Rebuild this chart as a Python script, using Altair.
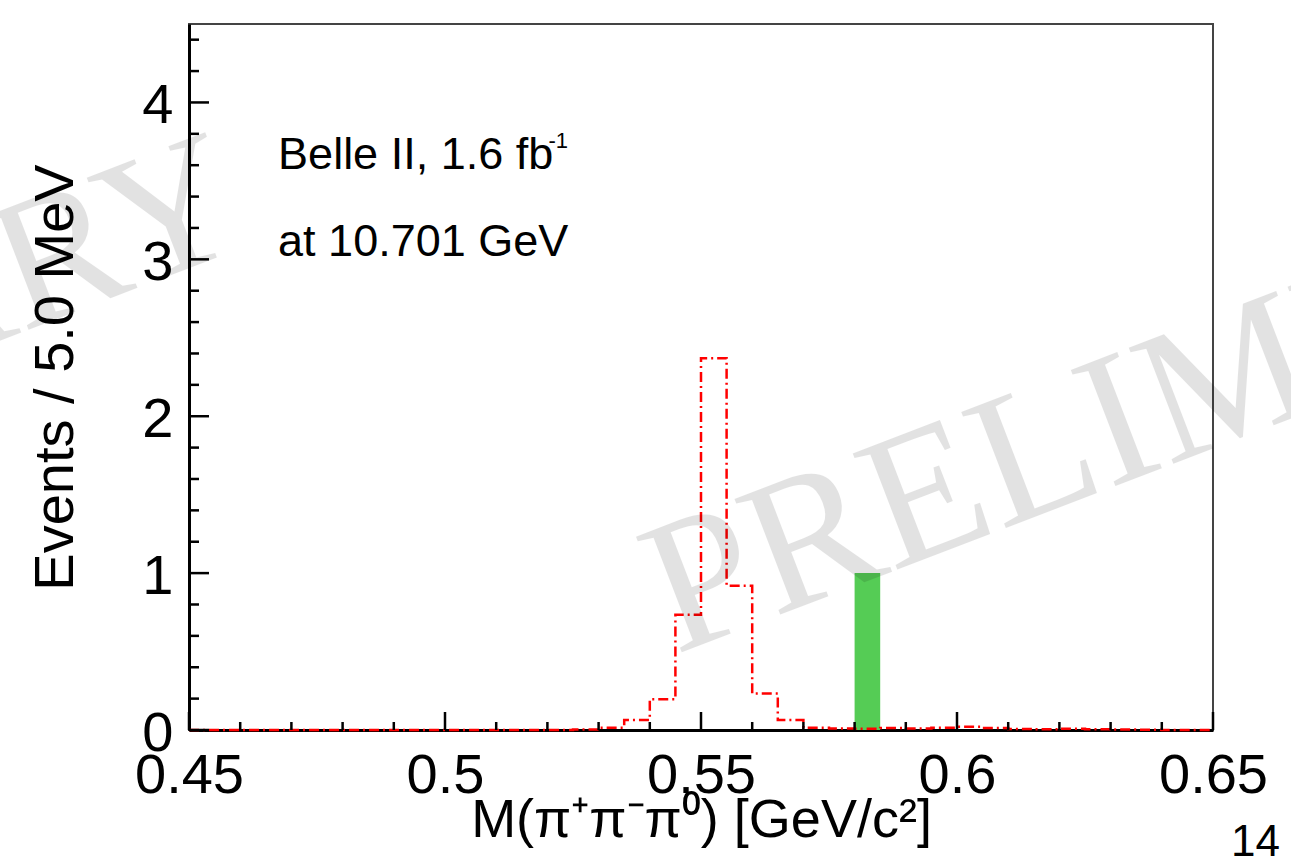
import altair as alt
import pandas as pd

# ---- data -------------------------------------------------------------
# 5 MeV bin edges of M(pi+ pi- pi0) [GeV/c^2]
edges = [0.450, 0.455, 0.460, 0.465, 0.470, 0.475, 0.480, 0.485, 0.490, 0.495,
         0.500, 0.505, 0.510, 0.515, 0.520, 0.525, 0.530, 0.535, 0.540, 0.545,
         0.550, 0.555, 0.560, 0.565, 0.570, 0.575, 0.580, 0.585, 0.590, 0.595,
         0.600, 0.605, 0.610, 0.615, 0.620, 0.625, 0.630, 0.635, 0.640, 0.645,
         0.650]
# red dash-dotted histogram (expected / MC), one value per bin
mc_counts = [0, 0, 0, 0, 0, 0, 0, 0, 0, 0,
             0, 0, 0, 0, 0, 0.003, 0.015, 0.064, 0.196, 0.735,
             2.37, 0.92, 0.232, 0.064, 0.015, 0.010, 0.008, 0.012, 0.010, 0.015,
             0.020, 0.012, 0.006, 0.004, 0.008, 0.005, 0.003, 0.002, 0, 0]
# green filled histogram (data)
data_low = [0.580]
data_high = [0.585]
data_counts = [1]

x_major = [0.45, 0.50, 0.55, 0.60, 0.65]
x_minor = [0.46, 0.47, 0.48, 0.49, 0.51, 0.52, 0.53, 0.54, 0.56, 0.57, 0.58,
           0.59, 0.61, 0.62, 0.63, 0.64]
y_major = [0, 1, 2, 3, 4]
y_minor = [0.2, 0.4, 0.6, 0.8, 1.2, 1.4, 1.6, 1.8, 2.2, 2.4, 2.6, 2.8,
           3.2, 3.4, 3.6, 3.8, 4.2, 4.4]

label_text = ["Belle II, 1.6 fb", "at 10.701 GeV"]
label_x = [0.4674, 0.4674]
label_y = [3.578, 3.022]
sup_text = ["-1"]
sup_x = [0.5202]
sup_y = [3.712]

wm_text = ["PRELIMINARY", "PRELIMINARY"]
wm_x = [0.4625, 0.5450]
wm_y = [3.100, 0.479]

page_text = ["14"]
page_x = [0.6631]
page_y = [-0.80]

# ---- chart ------------------------------------------------------------
W, H = 1024, 706
FONT = "Liberation Sans"
xs = alt.Scale(domain=[0.45, 0.65], nice=False, zero=False)
ys = alt.Scale(domain=[0, 4.5], nice=False, zero=True)

mc_df = pd.DataFrame({"m": edges, "n": mc_counts + [mc_counts[-1]]})
green_df = pd.DataFrame({"lo": data_low, "hi": data_high, "n": data_counts,
                         "z": [0] * len(data_low)})

x_axis = alt.Axis(values=x_major, format="~g", grid=False, ticks=False, tickSize=0,
                  domain=True, domainColor="black", domainWidth=3,
                  labelFont=FONT, labelFontSize=56, labelColor="black",
                  labelPadding=62, labelBaseline="alphabetic", labelFlush=False,
                  labelOverlap=False,
                  title="M(π⁺π⁻π⁰) [GeV/c²]", titleFont=FONT, titleFontSize=54,
                  titleFontWeight="normal", titleColor="black",
                  titleX=512, titleY=106, titleBaseline="alphabetic",
                  titleAlign="center")
y_axis = alt.Axis(values=y_major, format="d", grid=False, ticks=False, tickSize=0,
                  domain=True, domainColor="black", domainWidth=3,
                  labelFont=FONT, labelFontSize=56, labelColor="black",
                  labelPadding=16, labelBaseline="alphabetic", labelOffset=20,
                  labelFlush=False, labelOverlap=False,
                  title="Events / 5.0 MeV", titleFont=FONT, titleFontSize=56,
                  titleFontWeight="normal", titleColor="black",
                  titleAngle=270, titleX=-117, titleY=353,
                  titleBaseline="alphabetic", titleAlign="center")

green = alt.Chart(green_df).mark_rect(color="#55cc55").encode(
    x=alt.X("lo:Q", scale=xs, axis=x_axis),
    x2="hi:Q",
    y=alt.Y("n:Q", scale=ys, axis=y_axis),
    y2="z:Q",
)

mc = alt.Chart(mc_df).mark_line(
    interpolate="step-after", color="#ff0000", strokeWidth=2.5,
    strokeDash=[10, 4, 2, 4]
).encode(
    x=alt.X("m:Q", scale=xs),
    y=alt.Y("n:Q", scale=ys),
)

ymaj_df = pd.DataFrame({"v": y_major})
ymin_df = pd.DataFrame({"v": y_minor})
xmaj_df = pd.DataFrame({"v": x_major})
xmin_df = pd.DataFrame({"v": x_minor})

ymaj = alt.Chart(ymaj_df).mark_rule(color="black", strokeWidth=2.5).encode(
    y=alt.Y("v:Q", scale=ys), x=alt.value(0), x2=alt.value(20))
ymin = alt.Chart(ymin_df).mark_rule(color="black", strokeWidth=2.5).encode(
    y=alt.Y("v:Q", scale=ys), x=alt.value(0), x2=alt.value(10))
xmaj = alt.Chart(xmaj_df).mark_rule(color="black", strokeWidth=2.5).encode(
    x=alt.X("v:Q", scale=xs), y=alt.value(H), y2=alt.value(H - 18))
xmin = alt.Chart(xmin_df).mark_rule(color="black", strokeWidth=2.5).encode(
    x=alt.X("v:Q", scale=xs), y=alt.value(H), y2=alt.value(H - 8))

lab_df = pd.DataFrame({"t": label_text, "x": label_x, "y": label_y})
labels = alt.Chart(lab_df).mark_text(
    font=FONT, fontSize=45, align="left", baseline="alphabetic", color="black"
).encode(x=alt.X("x:Q", scale=xs), y=alt.Y("y:Q", scale=ys), text="t:N")

sup_df = pd.DataFrame({"t": sup_text, "x": sup_x, "y": sup_y})
sup = alt.Chart(sup_df).mark_text(
    font=FONT, fontSize=22, align="left", baseline="alphabetic", color="black"
).encode(x=alt.X("x:Q", scale=xs), y=alt.Y("y:Q", scale=ys), text="t:N")

wm_df = pd.DataFrame({"t": wm_text, "x": wm_x, "y": wm_y})
wm_right = alt.Chart(wm_df.iloc[[0]]).mark_text(
    font="Liberation Serif", fontSize=185, align="right", baseline="alphabetic",
    angle=339, color="black", opacity=0.11
).encode(x=alt.X("x:Q", scale=xs), y=alt.Y("y:Q", scale=ys), text="t:N")
wm_left = alt.Chart(wm_df.iloc[[1]]).mark_text(
    font="Liberation Serif", fontSize=190, align="left", baseline="alphabetic",
    angle=339, color="black", opacity=0.11
).encode(x=alt.X("x:Q", scale=xs), y=alt.Y("y:Q", scale=ys), text="t:N")

page_df = pd.DataFrame({"t": page_text, "x": page_x, "y": page_y})
page = alt.Chart(page_df).mark_text(
    font=FONT, fontSize=44, align="right", baseline="alphabetic", color="black"
).encode(x=alt.X("x:Q", scale=xs), y=alt.Y("y:Q", scale=ys), text="t:N")

chart = alt.layer(
    green, mc, ymaj, ymin, xmaj, xmin, labels, sup, wm_right, wm_left, page
).properties(
    width=W, height=H,
    autosize=alt.AutoSizeParams(type="none"),
    padding={"left": 189, "top": 24, "right": 78, "bottom": 126},
    background="white",
).configure_view(stroke="#444444", strokeWidth=2)

chart.save("out.html", embed_options={"renderer": "svg", "actions": False})
